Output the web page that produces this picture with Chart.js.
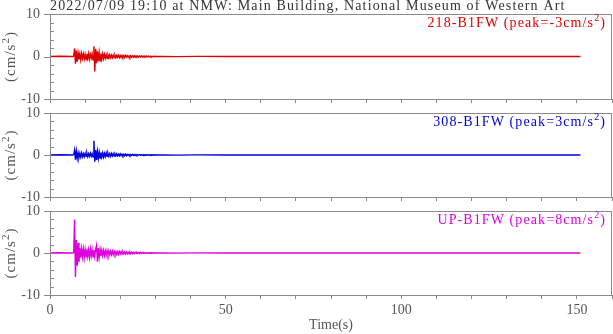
<!DOCTYPE html>
<html>
<head>
<meta charset="utf-8">
<script src="https://cdn.jsdelivr.net/npm/chart.js@4.4.1/dist/chart.umd.min.js"></script>
<style>
  body { margin: 0; background: #fff; }
  .panel { position: absolute; left: 0; }
</style>
</head>
<body>
<canvas class="panel" id="c1" width="613" height="104" style="top:0"></canvas>
<canvas class="panel" id="c2" width="613" height="102" style="top:100px"></canvas>
<canvas class="panel" id="c3" width="613" height="136" style="top:198px"></canvas>
<script>
// Chart text
const heading = '2022/07/09 19:10 at NMW: Main Building, National Museum of Western Art';
const stationNames = ['218-B1FW', '308-B1FW', 'UP-B1FW'];
const peakValues = [-3, 3, 8];
const traceColors = ['#dd0000', '#0000dd', '#dd00dd'];
const xTickLabels = [0, 50, 100, 150];
const yTickLabels = [-10, 0, 10];

// Quiet part before the event (s, cm/s2)
const headTimes = [0, 3, 6.25];
const headRed = [0, 0.05, 0];
const headBlue = [0, 0.05, 0];
const headMagenta = [0, 0.05, 0];

// Event part, one sample every 0.25 s starting at 6.5 s
const sampleStart = 6.5;
const sampleStep = 0.25;
const eventRed = [
  0, 0.1, 1.9, -1.7, 1.4, -1.2, 0.8, -0.7, 0.6, -0.8,
  0.7, -0.5, 0.6, -0.6, 0.5, -0.7, 0.6, -0.5, 0.7, -0.6,
  0.5, -0.4, 0.6, -0.8, 2.4, -3.5, 1.8, -1.6, 1.2, -1.1,
  0.9, -1.0, 0.7, -0.6, 0.6, -0.5, 0.5, -0.4, 0.4, -0.45,
  0.35, -0.3, 0.4, -0.3, 0.3, -0.3, 0.3, -0.25, 0.3, -0.3,
  0.25, -0.2, 0.3, -0.25, 0.2, -0.2, 0.25, -0.2, 0.2, -0.2,
  0.25, -0.15, 0.2, -0.2, 0.15, -0.2, 0.2, -0.15, 0.15, -0.15,
  0.2, -0.15, 0.15, -0.1, 0.15, -0.15, 0.1, -0.1, 0.15, -0.1,
  0.1, -0.1, 0.1, -0.1, 0.1, -0.1, 0.1, -0.05, 0.1, -0.1,
  0.05, -0.1, 0.1, -0.05, 0.05, 0
];
const eventBlue = [
  0, 0.1, 1.2, -1.1, 0.9, -0.8, 0.5, -0.6, 0.4, -0.5,
  0.5, -0.4, 0.3, -0.4, 0.4, -0.3, 0.4, -0.4, 0.3, -0.3,
  0.4, -0.3, 0.3, -0.5, 3.4, -1.6, 1.2, -1.2, 0.9, -0.8,
  0.7, -0.7, 0.6, -0.5, 0.5, -0.5, 0.4, -0.4, 0.5, -0.3,
  0.4, -0.3, 0.3, -0.3, 0.35, -0.25, 0.3, -0.25, 0.25, -0.2,
  0.3, -0.2, 0.2, -0.2, 0.25, -0.15, 0.2, -0.2, 0.15, -0.15,
  0.2, -0.15, 0.15, -0.1, 0.15, -0.15, 0.1, -0.1, 0.15, -0.1,
  0.1, -0.1, 0.1, -0.1, 0.1, -0.05, 0.1, -0.1, 0.05, -0.05,
  0.1, -0.05, 0.05, -0.05, 0.1, -0.05, 0.05, -0.05, 0.05, -0.05,
  0.05, -0.05, 0.05, 0, 0.05, 0
];
const eventMagenta = [
  0, 0.1, 8.0, -5.7, 3.1, -3.0, 2.4, -2.2, 1.2, -1.1,
  1.0, -0.9, 0.9, -1.1, 0.8, -0.9, 1.0, -0.8, 0.7, -1.0,
  0.9, -0.7, 0.8, -0.9, 0.7, -0.8, 0.9, 1.8, -2.1, 1.2,
  -1.0, 0.8, -0.7, 0.7, -0.6, 0.6, -0.6, 0.5, -0.5, 0.6,
  -0.4, 0.5, -0.4, 0.4, -0.4, 0.45, -0.35, 0.4, -0.3, 0.35,
  -0.3, 0.3, -0.3, 0.35, -0.25, 0.3, -0.25, 0.3, -0.2, 0.25,
  -0.2, 0.25, -0.2, 0.2, -0.2, 0.2, -0.15, 0.2, -0.15, 0.15,
  -0.15, 0.15, -0.1, 0.15, -0.1, 0.1, -0.1, 0.15, -0.1, 0.1,
  -0.1, 0.1, -0.05, 0.1, -0.1, 0.05, -0.05, 0.1, -0.05, 0.05,
  -0.05, 0.05, -0.05, 0.05, 0, 0
];

// Tail after the event
const tailTimes = [32, 36, 42, 50, 60, 75, 90, 110, 130, 151];
const tailRed = [0.04, -0.04, 0.03, 0, 0, 0, 0, 0, 0, 0];
const tailBlue = [0.03, -0.03, 0.02, 0, 0, 0, 0, 0, 0, 0];
const tailMagenta = [0.04, -0.04, 0.03, 0, 0, 0, 0, 0, 0, 0];

const serif = '"Liberation Serif", "DejaVu Serif", serif';
const textGray = '#555';
const frameGray = '#8a8a8a';

// Build {x, y} points for one trace
function buildPoints(head, event, tail) {
  const pts = [];
  headTimes.forEach((t, i) => pts.push({ x: t, y: head[i] }));
  event.forEach((v, i) => pts.push({ x: sampleStart + i * sampleStep, y: v }));
  tailTimes.forEach((t, i) => pts.push({ x: t, y: tail[i] }));
  return pts;
}

// Draw "main" + superscript 2 + "tail", anchored at x by align
function drawSupText(ctx, main, tail, x, y, size, align, spacing) {
  if ('letterSpacing' in ctx) ctx.letterSpacing = spacing + 'px';
  ctx.font = `${size}px ${serif}`;
  const wMain = ctx.measureText(main).width;
  const wTail = ctx.measureText(tail).width;
  ctx.font = `${Math.round(size * 0.72)}px ${serif}`;
  const wSup = ctx.measureText('2').width;
  const total = wMain + wSup + wTail;
  let cx = align === 'right' ? x - total : align === 'center' ? x - total / 2 : x;
  ctx.textAlign = 'left';
  ctx.textBaseline = 'alphabetic';
  ctx.font = `${size}px ${serif}`;
  ctx.fillText(main, cx, y);
  cx += wMain;
  ctx.font = `${Math.round(size * 0.72)}px ${serif}`;
  ctx.fillText('2', cx, y - size * 0.42);
  cx += wSup;
  ctx.font = `${size}px ${serif}`;
  ctx.fillText(tail, cx, y);
}

// Frame, y ticks, station label, y title and heading
const panelText = {
  id: 'panelText',
  afterDraw(chart, args, opts) {
    const { ctx, chartArea: a } = chart;
    const yScale = chart.scales.y;
    ctx.save();
    ctx.strokeStyle = frameGray;
    ctx.lineWidth = 1;
    ctx.strokeRect(a.left + 0.5, a.top + 0.5, a.right - a.left - 1, a.bottom - a.top);

    // y ticks: labelled ones point out, the others point in
    ctx.beginPath();
    yScale.ticks.forEach(t => {
      const py = Math.round(yScale.getPixelForValue(t.value)) + 0.5;
      if (yTickLabels.includes(t.value)) {
        ctx.moveTo(a.left - 6, py);
        ctx.lineTo(a.left + (t.value === -10 ? 4 : 0), py);
      } else {
        ctx.moveTo(a.left, py);
        ctx.lineTo(a.left + 4, py);
      }
    });
    ctx.stroke();

    // station label
    ctx.fillStyle = opts.color;
    drawSupText(ctx, `${opts.name} (peak=${opts.peak}cm/s`, ')', a.right - 6, a.top + 13, 14, 'right', 1.1);

    // y title
    ctx.save();
    ctx.translate(15, (a.top + a.bottom) / 2);
    ctx.rotate(-Math.PI / 2);
    ctx.fillStyle = textGray;
    drawSupText(ctx, '(cm/s', ')', 0, 0, 15, 'center', 1);
    ctx.restore();

    if (opts.heading) {
      ctx.fillStyle = '#333';
      if ('letterSpacing' in ctx) ctx.letterSpacing = '1.15px';
      ctx.font = `14px ${serif}`;
      ctx.textAlign = 'left';
      ctx.fillText(opts.heading, a.left, 10);
    }
    ctx.restore();
  }
};

function makePanel(canvasId, idx, points, pad, showX) {
  const ctx = document.getElementById(canvasId).getContext('2d');
  return new Chart(ctx, {
    type: 'line',
    data: {
      datasets: [{
        data: points,
        borderColor: traceColors[idx],
        borderWidth: 1.4,
        pointRadius: 0,
        tension: 0
      }]
    },
    options: {
      responsive: false,
      animation: false,
      events: [],
      layout: { padding: pad },
      plugins: {
        legend: { display: false },
        tooltip: { enabled: false },
        panelText: {
          name: stationNames[idx],
          peak: peakValues[idx],
          color: traceColors[idx],
          heading: idx === 0 ? heading : ''
        }
      },
      scales: {
        x: {
          type: 'linear',
          min: 0,
          max: 160,
          border: { display: false },
          grid: { drawOnChartArea: false, tickLength: 4, color: frameGray },
          ticks: {
            display: showX,
            stepSize: 10,
            autoSkip: false,
            maxRotation: 0,
            padding: 3,
            color: textGray,
            font: { family: serif, size: 14 },
            callback: v => xTickLabels.includes(v) ? String(v) : ''
          },
          title: {
            display: showX,
            text: 'Time(s)',
            color: textGray,
            font: { family: serif, size: 14 },
            padding: 0
          },
          afterFit: s => {
            s.height = showX ? 39 : 0;
            s.paddingLeft = 0;
            s.paddingRight = 0;
          }
        },
        y: {
          min: -10,
          max: 10,
          border: { display: false },
          grid: { drawOnChartArea: false, drawTicks: false },
          ticks: {
            stepSize: 2,
            autoSkip: false,
            padding: 10,
            color: textGray,
            font: { family: serif, size: 14 },
            callback: v => yTickLabels.includes(v) ? String(v) : ''
          },
          afterFit: s => {
            s.width = 50;
            s.paddingTop = 0;
            s.paddingBottom = 0;
          }
        }
      }
    },
    plugins: [panelText]
  });
}

makePanel('c1', 0, buildPoints(headRed, eventRed, tailRed), { top: 14, right: 1, bottom: 5, left: 0 }, false);
makePanel('c2', 1, buildPoints(headBlue, eventBlue, tailBlue), { top: 13, right: 1, bottom: 5, left: 0 }, false);
makePanel('c3', 2, buildPoints(headMagenta, eventMagenta, tailMagenta), { top: 13, right: 1, bottom: 0, left: 0 }, true);
</script>
</body>
</html>
